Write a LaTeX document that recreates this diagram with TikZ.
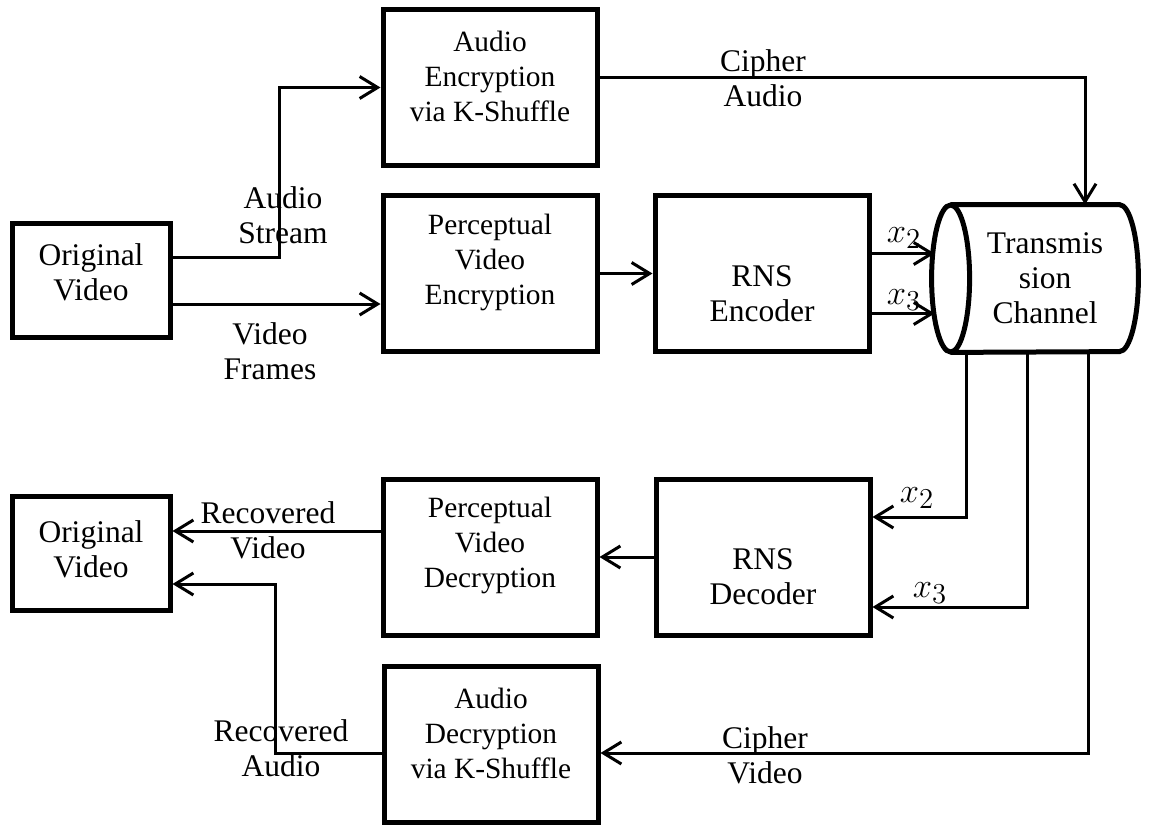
\documentclass[tikz,border=0pt]{standalone}
\usepackage{fontspec}
\setmainfont{Liberation Serif}
\usepackage{amsmath}
\usetikzlibrary{arrows.meta}

\begin{document}
\begin{tikzpicture}[x=0.5pt,y=-0.5pt,
    txt/.style={align=center,inner sep=0pt,font=\fontsize{15.75}{17.5}\selectfont},
    stxt/.style={txt,font=\fontsize{14.7}{17.5}\selectfont},
    blk/.style={draw,line width=2.5pt,minimum width=107pt,minimum height=78pt},
    ovbox/.style={blk,minimum width=79pt,minimum height=57pt},
    arr/.style={line width=1.5pt,-{Straight Barb[length=9pt,width=11pt]}},
    xlbl/.style={inner sep=0pt,font=\fontsize{19}{22}\selectfont}]
	\useasboundingbox (0,0) rectangle (1152,825);
	% sender side
	\node[ovbox,label={[txt,yshift=4pt]center:{Original\\Video}}] (ovid) at (91,280) {};
	\node[blk,label={[stxt,yshift=5.75pt]center:{Audio\\Encryption\\via K-Shuffle}}] (aenc) at (490,87.5) {};
	\node[blk,label={[stxt,yshift=5.75pt]center:{Perceptual\\Video\\Encryption}}] (penc) at (490,273.5) {};
	\node[blk,label={[txt,yshift=-10pt]center:{RNS\\Encoder}}] (rnse) at (762,273.5) {};
	% channel: body as node, ends drawn by hand
	\node[minimum width=84pt,minimum height=73.5pt,inner sep=0pt,label={[txt,xshift=5pt]center:{Transmis\\sion\\Channel}}] (chan) at (1035,278.5) {};
	\draw[line width=2.5pt] (chan.north west) -- (chan.north east) arc[start angle=-90,end angle=90,x radius=19,y radius=73.5] -- (chan.south west);
	\draw[line width=2.5pt] (chan.west) ellipse[x radius=19,y radius=73.5];
	\coordinate (chanl) at ([xshift=-8pt]chan.west);
	% receiver side
	\node[ovbox,label={[txt,yshift=2pt]center:{Original\\Video}}] (ovid2) at (91,553.5) {};
	\node[blk,label={[stxt,yshift=6pt]center:{Perceptual\\Video\\Decryption}}] (pdec) at (490,557) {};
	\node[blk,label={[txt,yshift=-10pt]center:{RNS\\Decoder}}] (rnsd) at (763,557) {};
	\node[blk,label={[stxt,yshift=5.75pt]center:{Audio\\Decryption\\via K-Shuffle}}] (adec) at (491,744.5) {};
	% connectors, top
	\draw[arr] ([yshift=11.5pt]ovid.east) -- ++(107,0) |- (aenc.west);
	\draw[arr] ([yshift=-12pt]ovid.east) -- ([yshift=-12pt]ovid.east -| penc.west);
	\draw[arr] (penc) -- (rnse);
	\draw[arr] ([yshift=10pt]rnse.east) -- ([yshift=10pt]rnse.east -| chanl);
	\draw[arr] ([yshift=-20pt]rnse.east) -- ([yshift=-20pt]rnse.east -| chanl);
	\draw[arr] ([yshift=5.25pt]aenc.east) -| ([xshift=25pt]chan.north);
	% connectors, bottom
	\draw[arr] ([xshift=-34.5pt]chan.south) |- ([yshift=20pt]rnsd.east);
	\draw[arr] ([xshift=-4pt]chan.south) |- ([yshift=-25pt]rnsd.east);
	\draw[arr] ([xshift=26.5pt]chan.south) |- ([yshift=-4.25pt]adec.east);
	\draw[arr] (rnsd) -- (pdec);
	\draw[arr] ([yshift=13pt]pdec.west) -- ([yshift=13pt]pdec.west -| ovid2.east);
	\draw[arr] ([yshift=-4.5pt]adec.west) -- ++(-106,0) |- ([yshift=-15.25pt]ovid2.east);
	% labels
	\node[txt] (lstream) at (283,215) {Audio\\Stream};
	\node[txt] (lframes) at (270,351) {Video\\Frames};
	\node[txt] (lcaud) at (763,78) {Cipher\\Audio};
	\node[xlbl] (lxa) at (904,238) {$x_2$};
	\node[xlbl] (lxb) at (904,300) {$x_3$};
	\node[xlbl] (lxc) at (917,498) {$x_2$};
	\node[xlbl] (lxd) at (930,593) {$x_3$};
	\node[txt] (lcvid) at (765,755) {Cipher\\Video};
	\node[txt] (lrvid) at (268,530) {Recovered\\Video};
	\node[txt] (lraud) at (281,748) {Recovered\\Audio};
\end{tikzpicture}
\end{document}
